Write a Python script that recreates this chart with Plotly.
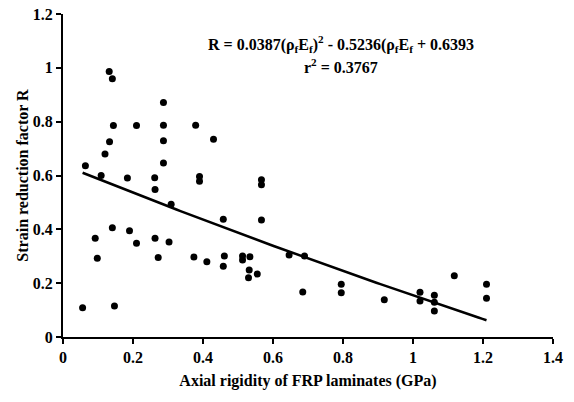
import numpy as np
import plotly.graph_objects as go

# axial rigidity of FRP laminates (GPa) and strain reduction factor R
rigidity = [0.056, 0.064, 0.092, 0.098, 0.109, 0.120, 0.132, 0.141, 0.133, 0.144,
            0.141, 0.147, 0.184, 0.190, 0.210, 0.210, 0.262, 0.263, 0.263, 0.272,
            0.287, 0.287, 0.287, 0.287, 0.303, 0.309, 0.374, 0.379, 0.390, 0.390,
            0.411, 0.430, 0.458, 0.461, 0.458, 0.513, 0.534, 0.513, 0.532, 0.530,
            0.555, 0.567, 0.567, 0.567, 0.646, 0.690, 0.685, 0.795, 0.795, 0.918,
            1.020, 1.020, 1.061, 1.061, 1.061, 1.118, 1.210, 1.210]
reduction = [0.109, 0.636, 0.367, 0.293, 0.600, 0.680, 0.986, 0.959, 0.725, 0.786,
             0.406, 0.115, 0.591, 0.395, 0.786, 0.348, 0.592, 0.548, 0.367, 0.295,
             0.871, 0.787, 0.729, 0.646, 0.353, 0.493, 0.297, 0.787, 0.596, 0.579,
             0.280, 0.735, 0.437, 0.301, 0.263, 0.301, 0.298, 0.286, 0.249, 0.220,
             0.234, 0.584, 0.566, 0.435, 0.305, 0.301, 0.167, 0.196, 0.164, 0.138,
             0.166, 0.134, 0.155, 0.129, 0.097, 0.228, 0.196, 0.144]

x_ticks = [0, 0.2, 0.4, 0.6, 0.8, 1, 1.2, 1.4]
y_ticks = [0, 0.2, 0.4, 0.6, 0.8, 1, 1.2]

# quadratic fit coefficients
coef = [0.0387, -0.5236, 0.6393]

xf = np.linspace(min(rigidity), max(rigidity), 100)
yf = np.polyval(coef, xf)

font = "Liberation Serif"
bold = dict(family=font, size=16, color="black", weight="bold")

fig = go.Figure()
fig.add_trace(go.Scatter(x=xf, y=yf, mode="lines",
                         line=dict(color="black", width=2.5), hoverinfo="skip"))
fig.add_trace(go.Scatter(x=rigidity, y=reduction, mode="markers",
                         marker=dict(color="black", size=7)))

axis = dict(showline=True, linecolor="black", linewidth=2, ticks="outside",
            tickcolor="black", tickwidth=2, ticklen=5, showgrid=False,
            zeroline=False, automargin=False, tickfont=bold)

fig.update_layout(
    width=574, height=402,
    margin=dict(l=63, r=21, t=14, b=65),
    plot_bgcolor="white", paper_bgcolor="white",
    showlegend=False,
    font=dict(family=font, color="black"),
    xaxis=dict(axis, range=[0, 1.4], tickvals=x_ticks, ticktext=[f"{v:g}" for v in x_ticks],
               title=dict(text="Axial rigidity of FRP laminates (GPa)", font=bold, standoff=10)),
    yaxis=dict(axis, range=[0, 1.2], tickvals=y_ticks, ticktext=[f"{v:g}" for v in y_ticks],
               title=dict(text="Strain reduction factor R", font=bold, standoff=0)),
    annotations=[
        dict(x=0.794, y=1.09, xref="x", yref="y", showarrow=False,
             text="R = 0.0387(ρ<sub>f</sub>E<sub>f</sub>)<sup>2</sup> - 0.5236(ρ<sub>f</sub>E<sub>f</sub> + 0.6393",
             font=bold),
        dict(x=0.794, y=1.005, xref="x", yref="y", showarrow=False,
             text="r<sup>2</sup> = 0.3767", font=bold),
    ],
)

fig.write_html("out.html", config={"displayModeBar": False},
               post_script="document.body.style.margin='0';")
